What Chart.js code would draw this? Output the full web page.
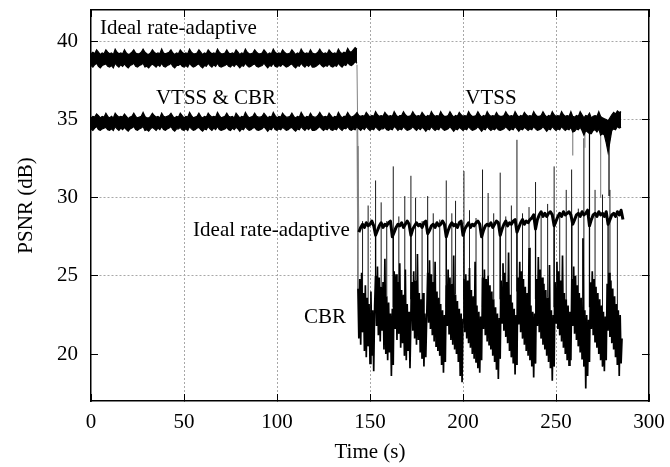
<!DOCTYPE html>
<html><head><meta charset="utf-8">
<script src="https://cdn.jsdelivr.net/npm/chart.js@4.4.1/dist/chart.umd.min.js"></script>
<style>html,body{margin:0;padding:0;background:#fff;}#wrap{width:670px;height:467px;}</style>
</head><body><div id="wrap"><canvas id="c" width="670" height="467"></canvas></div>
<script>
// ---- data ----
const X_TICKS = [0, 50, 100, 150, 200, 250, 300];
const Y_TICKS = [20, 25, 30, 35, 40];
const Y_GRID_HIDDEN = [20];

// Ideal rate-adaptive (first half), 1 s samples from 0 s: upper / lower envelope of the dense trace
const IDEAL_HI_START = 0, IDEAL_HI_STEP = 1;
const IDEAL_HI_UP = [
39.20,39.30,39.20,39.45,39.30,39.15,39.25,39.20,39.45,39.30,
39.20,39.25,39.15,39.50,39.30,39.20,39.25,39.20,39.45,39.25,
39.15,39.20,39.30,39.45,39.25,39.20,39.20,39.30,39.50,39.30,
39.20,39.15,39.25,39.45,39.30,39.20,39.25,39.20,39.50,39.25,
39.20,39.25,39.30,39.45,39.25,39.15,39.25,39.20,39.45,39.30,
39.20,39.25,39.20,39.50,39.30,39.20,39.20,39.25,39.45,39.30,
39.15,39.25,39.20,39.45,39.30,39.20,39.25,39.20,39.50,39.30,
39.20,39.20,39.25,39.45,39.25,39.20,39.25,39.20,39.45,39.30,
39.15,39.25,39.20,39.50,39.30,39.20,39.20,39.25,39.45,39.30,
39.20,39.20,39.25,39.45,39.30,39.15,39.25,39.20,39.50,39.30,
39.20,39.25,39.20,39.45,39.30,39.20,39.20,39.25,39.45,39.30,
39.15,39.25,39.20,39.50,39.30,39.20,39.25,39.20,39.45,39.25,
39.20,39.20,39.30,39.50,39.30,39.20,39.25,39.20,39.45,39.30,
39.20,39.25,39.20,39.50,39.30,39.20,39.30,39.25,39.55,39.35,
39.30,39.45,39.60,39.50];
const IDEAL_HI_LO = [
38.45,38.35,38.50,38.60,38.40,38.30,38.45,38.50,38.55,38.40,
38.35,38.45,38.30,38.60,38.45,38.35,38.50,38.40,38.55,38.40,
38.30,38.45,38.50,38.60,38.40,38.35,38.45,38.50,38.60,38.35,
38.40,38.30,38.45,38.55,38.45,38.35,38.50,38.40,38.60,38.40,
38.35,38.45,38.50,38.60,38.40,38.30,38.45,38.45,38.55,38.40,
38.35,38.45,38.35,38.60,38.45,38.35,38.40,38.50,38.55,38.40,
38.30,38.45,38.40,38.60,38.45,38.35,38.50,38.40,38.60,38.40,
38.35,38.40,38.45,38.55,38.40,38.35,38.50,38.40,38.55,38.45,
38.30,38.45,38.40,38.60,38.45,38.35,38.40,38.50,38.55,38.40,
38.35,38.40,38.45,38.60,38.45,38.30,38.45,38.40,38.60,38.40,
38.35,38.45,38.40,38.55,38.45,38.35,38.40,38.50,38.55,38.40,
38.30,38.45,38.40,38.60,38.45,38.35,38.50,38.40,38.55,38.35,
38.35,38.40,38.50,38.60,38.45,38.35,38.45,38.40,38.55,38.40,
38.35,38.45,38.40,38.60,38.45,38.35,38.50,38.45,38.65,38.50,
38.45,38.55,38.70,38.60];

// VTSS (and CBR before 143 s), 1 s samples from 0 s: upper / lower envelope
const VTSS_START = 0, VTSS_STEP = 1;
const VTSS_UP = [
35.10,35.20,35.15,35.35,35.25,35.10,35.20,35.15,35.40,35.20,
35.10,35.20,35.10,35.40,35.25,35.15,35.20,35.15,35.35,35.20,
35.05,35.15,35.20,35.40,35.20,35.10,35.15,35.20,35.45,35.20,
35.10,35.10,35.20,35.40,35.25,35.15,35.20,35.10,35.40,35.20,
35.15,35.20,35.25,35.40,35.20,35.10,35.20,35.15,35.40,35.25,
35.10,35.20,35.15,35.45,35.25,35.10,35.15,35.20,35.40,35.20,
35.10,35.20,35.15,35.40,35.25,35.15,35.20,35.15,35.45,35.25,
35.10,35.15,35.20,35.40,35.20,35.15,35.20,35.10,35.40,35.25,
35.10,35.20,35.15,35.45,35.25,35.10,35.15,35.20,35.40,35.20,
35.15,35.15,35.20,35.40,35.25,35.10,35.20,35.15,35.45,35.25,
35.10,35.20,35.15,35.40,35.25,35.15,35.15,35.20,35.40,35.20,
35.10,35.20,35.15,35.45,35.25,35.10,35.20,35.15,35.40,35.20,
35.15,35.15,35.25,35.45,35.25,35.15,35.20,35.15,35.40,35.25,
35.10,35.20,35.15,35.45,35.25,35.10,35.20,35.20,35.45,35.25,
35.15,35.20,35.30,35.45,35.25,35.20,35.25,35.20,35.45,35.30,
35.15,35.25,35.20,35.50,35.30,35.20,35.25,35.20,35.45,35.30,
35.20,35.25,35.20,35.50,35.30,35.15,35.25,35.25,35.50,35.30,
35.20,35.20,35.25,35.50,35.30,35.20,35.25,35.20,35.45,35.30,
35.15,35.25,35.20,35.50,35.30,35.20,35.25,35.20,35.50,35.30,
35.20,35.20,35.25,35.50,35.30,35.15,35.25,35.20,35.45,35.30,
35.20,35.25,35.20,35.50,35.30,35.20,35.20,35.25,35.50,35.30,
35.15,35.25,35.20,35.50,35.30,35.20,35.25,35.20,35.45,35.25,
35.20,35.20,35.25,35.50,35.30,35.20,35.25,35.20,35.50,35.30,
35.15,35.25,35.20,35.45,35.30,35.20,35.25,35.20,35.50,35.30,
35.20,35.20,35.25,35.50,35.30,35.15,35.25,35.20,35.50,35.30,
35.20,35.25,35.20,35.50,35.30,35.20,35.25,35.20,35.50,35.20,
35.15,35.25,35.20,35.50,35.30,35.10,35.25,35.20,35.40,35.10,
35.20,35.25,35.20,35.50,35.20,35.10,35.05,35.00,34.90,35.10,
35.30,35.45,35.35,35.55,35.45,35.50];
const VTSS_LO = [
34.40,34.30,34.45,34.55,34.35,34.30,34.40,34.45,34.50,34.35,
34.30,34.40,34.30,34.55,34.40,34.30,34.45,34.35,34.50,34.35,
34.25,34.40,34.45,34.55,34.35,34.30,34.40,34.45,34.55,34.30,
34.35,34.25,34.40,34.50,34.40,34.30,34.45,34.35,34.55,34.35,
34.30,34.40,34.45,34.55,34.35,34.25,34.40,34.40,34.50,34.35,
34.30,34.40,34.30,34.55,34.40,34.30,34.35,34.45,34.50,34.35,
34.25,34.40,34.35,34.55,34.40,34.30,34.45,34.35,34.55,34.35,
34.30,34.35,34.40,34.50,34.35,34.30,34.45,34.35,34.50,34.40,
34.25,34.40,34.35,34.55,34.40,34.30,34.35,34.45,34.50,34.35,
34.30,34.35,34.40,34.55,34.40,34.25,34.40,34.35,34.55,34.35,
34.30,34.40,34.35,34.50,34.40,34.30,34.35,34.45,34.50,34.35,
34.25,34.40,34.35,34.55,34.40,34.30,34.45,34.35,34.50,34.30,
34.30,34.35,34.45,34.55,34.40,34.30,34.40,34.35,34.50,34.35,
34.30,34.40,34.35,34.55,34.40,34.30,34.45,34.40,34.55,34.35,
34.30,34.40,34.35,34.55,34.40,34.30,34.45,34.35,34.55,34.40,
34.30,34.40,34.35,34.55,34.40,34.30,34.40,34.40,34.50,34.35,
34.30,34.40,34.35,34.55,34.45,34.30,34.40,34.35,34.55,34.40,
34.30,34.35,34.40,34.55,34.40,34.30,34.45,34.35,34.50,34.40,
34.25,34.40,34.35,34.55,34.40,34.30,34.40,34.35,34.55,34.40,
34.30,34.35,34.40,34.55,34.40,34.25,34.40,34.35,34.50,34.40,
34.30,34.40,34.35,34.55,34.40,34.30,34.35,34.40,34.55,34.40,
34.25,34.40,34.35,34.55,34.40,34.30,34.40,34.35,34.50,34.35,
34.30,34.35,34.40,34.55,34.40,34.30,34.40,34.35,34.55,34.40,
34.25,34.40,34.35,34.50,34.40,34.30,34.40,34.35,34.55,34.40,
34.30,34.35,34.40,34.55,34.40,34.25,34.40,34.35,34.55,34.40,
34.30,34.40,34.35,34.55,34.40,34.30,34.40,34.35,34.50,34.20,
34.25,34.40,34.35,34.50,34.30,34.00,34.30,34.20,34.10,34.10,
34.30,34.35,34.20,34.40,34.00,34.10,34.00,33.50,32.90,33.60,
34.30,34.40,34.35,34.55,34.45,34.50];
// thin downward excursions of VTSS (time, lowest PSNR, shade)
const VTSS_DIP_T      = [259,  265.5, 268,  274,  278.5];
const VTSS_DIP_BOTTOM = [32.7, 33.2,  28.8, 30.0, 30.1];
const VTSS_DIP_SHADE  = ['#8a8a8a', '#8a8a8a', '#000', '#8a8a8a', '#000'];

// Ideal rate-adaptive (second half), 1 s samples from 143 s (first value = drop from the upper level)
const IDEAL_LO_START = 143, IDEAL_LO_STEP = 1;
const IDEAL_LO = [
38.5,
27.8,28.1,28.3,28.1,28.4,28.2,28.3,28.5,28.2,27.6,
27.9,28.2,28.4,28.1,28.3,28.2,28.4,28.5,27.5,
27.8,28.1,28.3,28.2,28.4,28.1,28.3,28.5,28.3,27.6,
28.0,28.2,28.4,28.2,28.3,28.1,28.4,28.5,27.7,
27.9,28.2,28.3,28.1,28.4,28.2,28.3,28.5,28.3,27.5,
27.9,28.2,28.4,28.2,28.3,28.1,28.4,28.5,27.6,
28.0,28.2,28.4,28.1,28.3,28.2,28.4,28.5,28.3,27.5,
27.9,28.2,28.3,28.2,28.4,28.1,28.3,28.5,28.4,27.6,
28.0,28.3,28.5,28.2,28.4,28.3,28.5,28.6,27.8,
28.1,28.4,28.6,28.3,28.5,28.4,28.6,28.7,28.9,28.0,
28.6,28.9,29.1,28.8,29.0,28.8,29.0,29.1,28.9,28.2,
28.5,28.8,29.0,28.8,29.1,28.9,29.0,29.1,28.9,28.3,
28.6,28.9,29.0,28.8,29.1,28.9,29.0,29.2,28.2,
28.6,28.9,29.0,28.8,29.1,28.9,29.0,28.8,29.1,28.3,
28.6,28.9,29.0,28.8,29.1,28.9,29.2,28.6];
// deep single-frame drops of the ideal trace (time, lowest PSNR)
const IDEAL_DIP_T      = [153, 162.5, 172, 181, 191, 200.5, 210.5, 220, 229, 239, 249, 258.5, 268, 278];
const IDEAL_DIP_BOTTOM = [23.5, 23.0, 23.5, 24.0, 23.0, 23.5, 23.0, 23.5, 24.0, 23.5, 23.0, 23.5, 23.0, 24.0];

// CBR (second half), 0.5 s samples from 143 s (first value = drop from the VTSS level)
const CBR_START = 143, CBR_STEP = 0.5;
const CBR = [
34.8,
24.2,21.0,24.8,20.6,25.2,21.4,23.9,20.2,24.4,19.8,23.6,20.5,23.2,19.4,24.0,19.9,22.8,18.9,23.1,25.0,
21.8,25.6,21.2,24.9,20.8,24.3,21.5,24.6,20.3,26.1,20.0,23.7,19.6,23.3,20.1,22.6,18.6,22.9,19.3,25.3,
21.6,25.1,20.9,24.6,21.3,25.8,20.4,24.1,20.7,23.8,19.9,25.4,19.6,23.2,20.2,22.7,19.1,22.3,24.6,21.5,
25.3,21.0,24.7,20.6,26.4,20.9,23.9,20.1,23.5,19.7,23.9,19.2,22.6,19.8,22.4,25.2,22.0,26.0,21.6,25.1,
21.2,24.6,20.8,25.9,20.5,24.0,20.2,23.6,19.9,23.2,19.3,22.8,18.8,22.5,19.5,24.4,21.8,25.4,21.3,24.9,
20.9,24.5,20.6,26.3,20.3,23.8,20.0,23.4,19.5,22.9,18.6,22.6,18.2,22.2,24.8,21.4,25.1,21.0,24.7,20.7,
25.5,20.4,24.1,20.0,23.7,19.7,25.9,19.5,23.1,19.1,22.7,18.8,22.4,19.6,24.9,21.6,25.4,21.2,24.8,20.8,
25.0,20.6,24.4,20.3,24.0,19.9,23.5,19.5,23.0,19.0,22.6,18.4,22.3,19.7,24.7,22.0,25.8,21.5,25.2,21.1,
24.6,20.7,26.5,20.2,23.8,19.8,23.3,19.4,22.9,18.7,22.5,19.3,24.9,21.9,25.9,21.4,25.3,21.0,24.8,20.6,
24.3,20.2,23.9,19.9,26.8,19.6,23.1,19.2,22.7,18.5,22.6,19.4,24.8,21.8,26.2,21.4,25.4,21.0,24.9,20.6,
24.5,20.3,24.1,19.9,23.6,19.5,25.7,19.1,22.8,18.3,22.5,19.2,24.6,22.0,25.9,21.6,25.3,21.2,24.7,20.8,
26.3,20.4,23.9,20.0,23.5,19.6,23.1,19.3,22.7,19.6,24.8,21.8,25.6,21.3,25.0,20.9,24.4,20.5,23.9,20.1,
23.6,19.7,27.4,19.2,22.8,17.8,22.5,18.6,22.2,19.5,24.6,21.6,25.3,21.2,24.8,20.8,24.3,20.4,23.9,20.0,
23.5,19.6,23.1,19.2,22.7,18.9,22.4,19.6,24.5,21.5,25.2,21.1,24.7,20.7,24.2,20.3,23.7,19.8,23.2,19.3,
22.8,18.6,22.5,19.4,21.0];
// single-frame upward spikes of CBR (time, highest PSNR)
const CBR_SPIKE_T   = [143.5,146,149,153,156,159,162.5,165.5,168.7,172,174.5,178,181,184,187.5,191,194,196,200.5,203.5,207,210.5,213.5,216.5,220,223,226,229,232,235.5,239,242,245.5,249,252,255.5,258.4,262,265,271,275,279,283];
const CBR_SPIKE_TOP = [33.3, 28.5,29.5,31.1,29.7,28.5,32.0, 28.8, 30.1, 31.4,30.0, 28.5,30.1,29.0,28.6, 31.1,29.0,29.8,31.7, 29.2, 28.7,31.8, 30.3, 29.0, 31.6,28.8,29.5,33.7,29.0,29.4, 31.0,28.8,29.6, 32.0,29.0,30.5, 31.8, 29.3,33.8,30.5,30.2,30.5,28.8];

const ANNOTATIONS = [
  {text: 'Ideal rate-adaptive', t: 4.8,   v: 40.45, align: 'left'},
  {text: 'VTSS & CBR',          t: 67.2,  v: 35.97, align: 'center'},
  {text: 'VTSS',                t: 215,   v: 35.97, align: 'center'},
  {text: 'Ideal rate-adaptive', t: 139.2, v: 27.53, align: 'right'},
  {text: 'CBR',                 t: 137.1, v: 21.97, align: 'right'}
];

// ---- chart ----
const FONT = "'Liberation Serif', 'Times New Roman', serif";
const GRID = '#a8a8a8';
function pts(start, step, vals) { return vals.map((v, i) => ({x: start + i * step, y: v})); }
function valueAt(start, step, vals, t) { return vals[Math.max(0, Math.min(vals.length - 1, Math.round((t - start) / step)))]; }
function vlines(T, from, to) {
  const out = [];
  T.forEach((t, i) => { out.push({x: t, y: from[i]}, {x: t, y: to[i]}, {x: t, y: null}); });
  return out;
}

const textPlugin = {
  id: 'annot',
  afterDraw(chart) {
    const {ctx} = chart; const sx = chart.scales.x, sy = chart.scales.y;
    ctx.save();
    ctx.font = '21px ' + FONT;
    ctx.fillStyle = '#000';
    ctx.textBaseline = 'alphabetic';
    for (const a of ANNOTATIONS) {
      ctx.textAlign = a.align;
      ctx.fillText(a.text, sx.getPixelForValue(a.t), sy.getPixelForValue(a.v));
    }
    ctx.restore();
  }
};

const firstSegGray = {
  borderColor: c => c.p0DataIndex === 0 ? '#808080' : undefined,
  borderWidth: c => c.p0DataIndex === 0 ? 1 : undefined
};
function fixAxis(size, prop) {
  return s => { s[prop] = size; s.paddingLeft = 0; s.paddingRight = 0; s.paddingTop = 0; s.paddingBottom = 0; };
}
const tickList = arr => s => { s.ticks = arr.map(v => ({value: v})); };

const idealDipFrom = IDEAL_DIP_T.map(t => valueAt(IDEAL_LO_START, IDEAL_LO_STEP, IDEAL_LO, t));
const cbrSpikeFrom = CBR_SPIKE_T.map(t => valueAt(CBR_START, CBR_STEP, CBR, t));
const vtssDipFrom = VTSS_DIP_T.map(t => valueAt(VTSS_START, VTSS_STEP, VTSS_LO, t));

new Chart(document.getElementById('c'), {
  type: 'line',
  data: {
    datasets: [
      {label: 'Ideal hi up', data: pts(IDEAL_HI_START, IDEAL_HI_STEP, IDEAL_HI_UP), borderColor: '#000', backgroundColor: '#000', borderWidth: 1.2, fill: '+1'},
      {label: 'Ideal hi lo', data: pts(IDEAL_HI_START, IDEAL_HI_STEP, IDEAL_HI_LO), borderColor: '#000', borderWidth: 1.2, fill: false},
      {label: 'VTSS up', data: pts(VTSS_START, VTSS_STEP, VTSS_UP), borderColor: '#000', backgroundColor: '#000', borderWidth: 1.2, fill: '+1'},
      {label: 'VTSS lo', data: pts(VTSS_START, VTSS_STEP, VTSS_LO), borderColor: '#000', borderWidth: 1.2, fill: false},
      {label: 'VTSS dips', data: vlines(VTSS_DIP_T, vtssDipFrom, VTSS_DIP_BOTTOM), borderWidth: 1.2, fill: false, spanGaps: false,
        segment: {borderColor: c => VTSS_DIP_SHADE[Math.floor(c.p0DataIndex / 3)]}},
      {label: 'Ideal lo', data: pts(IDEAL_LO_START, IDEAL_LO_STEP, IDEAL_LO), borderColor: '#000', borderWidth: 3, fill: false, segment: firstSegGray, borderJoinStyle: 'round'},
      {label: 'Ideal dips', data: vlines(IDEAL_DIP_T, idealDipFrom, IDEAL_DIP_BOTTOM), borderColor: '#000', borderWidth: 1.3, fill: false, spanGaps: false},
      {label: 'CBR', data: pts(CBR_START, CBR_STEP, CBR), borderColor: '#000', borderWidth: 1.7, fill: false, segment: firstSegGray},
      {label: 'CBR spikes', data: vlines(CBR_SPIKE_T, cbrSpikeFrom, CBR_SPIKE_TOP), borderColor: '#1a1a1a', borderWidth: 1, fill: false, spanGaps: false}
    ]
  },
  options: {
    responsive: false, animation: false, devicePixelRatio: 1,
    layout: {padding: {left: 0, right: 21, top: 10, bottom: 0}},
    plugins: {legend: {display: false}, tooltip: {enabled: false}},
    elements: {point: {radius: 0}, line: {tension: 0}},
    scales: {
      x: {
        type: 'linear', position: 'bottom', min: 0, max: 300,
        afterBuildTicks: tickList(X_TICKS), afterFit: fixAxis(66, 'height'),
        grid: {color: c => (c.tick && (c.tick.value === 0 || c.tick.value === 300)) ? 'rgba(0,0,0,0)' : GRID,
               lineWidth: 1, tickLength: -7, tickColor: '#000', tickWidth: 1},
        border: {display: true, color: '#000', width: 1.5, dash: [2, 2]},
        ticks: {font: {family: FONT, size: 21}, color: '#000', padding: 16, maxRotation: 0, autoSkip: false},
        title: {display: true, text: 'Time (s)', font: {family: FONT, size: 21}, color: '#000', padding: {top: 0, bottom: 2}}
      },
      y: {
        type: 'linear', position: 'left', min: 17, max: 42,
        afterBuildTicks: tickList(Y_TICKS), afterFit: fixAxis(91, 'width'),
        grid: {color: c => (c.tick && Y_GRID_HIDDEN.includes(c.tick.value)) ? 'rgba(0,0,0,0)' : GRID,
               lineWidth: 1, tickLength: -7, tickColor: '#000', tickWidth: 1},
        border: {display: true, color: '#000', width: 1.5, dash: [2, 2]},
        ticks: {font: {family: FONT, size: 21}, color: '#000', padding: 20, autoSkip: false},
        title: {display: true, text: 'PSNR (dB)', font: {family: FONT, size: 21}, color: '#000', padding: {top: 14, bottom: 0}}
      },
      x2: {
        type: 'linear', position: 'top', min: 0, max: 300,
        afterBuildTicks: tickList(X_TICKS), afterFit: fixAxis(0, 'height'),
        grid: {drawOnChartArea: false, tickLength: -7, tickColor: '#000', tickWidth: 1},
        border: {display: true, color: '#000', width: 1.5},
        ticks: {display: false}
      },
      y2: {
        type: 'linear', position: 'right', min: 17, max: 42,
        afterBuildTicks: tickList(Y_TICKS), afterFit: fixAxis(0, 'width'),
        grid: {drawOnChartArea: false, tickLength: -7, tickColor: '#000', tickWidth: 1},
        border: {display: true, color: '#000', width: 1.5},
        ticks: {display: false}
      }
    }
  },
  plugins: [textPlugin]
});
</script></body></html>
